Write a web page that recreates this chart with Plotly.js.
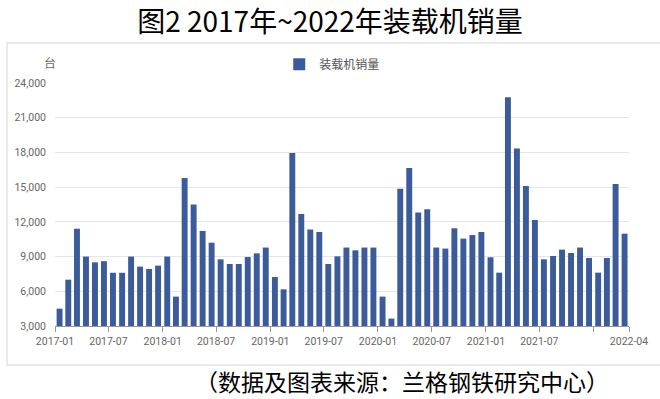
<!DOCTYPE html>
<html>
<head>
<meta charset="utf-8">
<script src="https://cdn.plot.ly/plotly-3.0.1.min.js"></script>
<style>
html,body{margin:0;padding:0;background:#fff;}
#chart{width:660px;height:399px;}
</style>
</head>
<body>
<div id="chart"></div>
<script>
// Months (categories)
const months = [
  "2017-01","2017-02","2017-03","2017-04","2017-05","2017-06","2017-07","2017-08","2017-09","2017-10","2017-11","2017-12",
  "2018-01","2018-02","2018-03","2018-04","2018-05","2018-06","2018-07","2018-08","2018-09","2018-10","2018-11","2018-12",
  "2019-01","2019-02","2019-03","2019-04","2019-05","2019-06","2019-07","2019-08","2019-09","2019-10","2019-11","2019-12",
  "2020-01","2020-02","2020-03","2020-04","2020-05","2020-06","2020-07","2020-08","2020-09","2020-10","2020-11","2020-12",
  "2021-01","2021-02","2021-03","2021-04","2021-05","2021-06","2021-07","2021-08","2021-09","2021-10","2021-11","2021-12",
  "2022-01","2022-02","2022-03","2022-04"
];
// Loader sales (units)
const sales = [
  4500, 7000, 11400, 9000, 8500, 8600, 7600, 7600, 9000, 8130, 7930, 8220,
  9000, 5540, 15800, 13500, 11200, 10200, 8760, 8360, 8360, 8960, 9280, 9780,
  7230, 6170, 17950, 12680, 11350, 11120, 8360, 9020, 9780, 9540, 9780, 9780,
  5540, 3640, 14870, 16650, 12800, 13100, 9780, 9690, 11450, 10550, 10860, 11120,
  8940, 7610, 22770, 18350, 15100, 12150, 8760, 9050, 9600, 9310, 9780, 8880,
  7610, 8880, 15270, 10980
];
const seriesName = "装载机销量";
const tickVals = ["2017-01-01","2017-07-01","2018-01-01","2018-07-01","2019-01-01","2019-07-01",
  "2020-01-01","2020-07-01","2021-01-01","2021-07-01","2022-01-01","2022-05-01"];
const tickLabels = ["2017-01","2017-07","2018-01","2018-07","2019-01","2019-07",
  "2020-01","2020-07","2021-01","2021-07","","2022-04"];
const yTicks = [3000, 6000, 9000, 12000, 15000, 18000, 21000, 24000];

const axisFont = {family: "Roboto, 'Noto Sans', sans-serif", size: 10.5, color: "#666"};
const cjk = "'Noto Sans CJK SC', 'Noto Sans', sans-serif";

const trace = {
  type: "bar",
  name: seriesName,
  x: months,
  y: sales,
  xperiod: "M1",
  xperiodalignment: "middle",
  marker: {color: "#3b5b9b", line: {width: 0}},
  showlegend: true
};

const layout = {
  width: 660, height: 399,
  margin: {l: 55, r: 31, t: 83, b: 73, pad: 0},
  paper_bgcolor: "#fff", plot_bgcolor: "#fff",
  bargap: 0.32,
  title: {
    text: "图2 2017年~2022年装载机销量",
    font: {family: cjk, size: 28, color: "#000"},
    x: 0.5, xanchor: "center", xref: "container",
    y: 0.945, yanchor: "middle", yref: "container"
  },
  xaxis: {
    type: "date",
    range: ["2017-01-01", "2022-05-01"],
    tickmode: "array", tickvals: tickVals, ticktext: tickLabels,
    ticks: "outside", ticklen: 5, tickcolor: "#999", tickwidth: 1,
    showline: true, linecolor: "#999", linewidth: 1,
    showgrid: false, zeroline: false,
    tickfont: axisFont
  },
  yaxis: {
    range: [3000, 24000],
    tickmode: "array", tickvals: yTicks,
    tickformat: ",d",
    showgrid: true, gridcolor: "#e6e6e6", gridwidth: 1,
    zeroline: false, showline: false, ticks: "",
    ticklabelstandoff: 8,
    tickfont: axisFont
  },
  legend: {
    orientation: "h",
    x: 0.483, xanchor: "center",
    y: 1.077, yanchor: "middle",
    font: {family: cjk, size: 12, color: "#555"},
    bgcolor: "rgba(0,0,0,0)"
  },
  shapes: [{
    type: "rect", xref: "paper", yref: "paper",
    x0: -0.0836, x1: 1.06, y0: -0.161, y1: 1.165,
    line: {color: "#d4d4d4", width: 1}, fillcolor: "rgba(0,0,0,0)", layer: "below"
  }],
  annotations: [
    {text: "台", xref: "paper", yref: "paper", x: -0.009, y: 1.085,
     xanchor: "center", yanchor: "middle", showarrow: false,
     font: {family: cjk, size: 12, color: "#666"}},
    {text: "（数据及图表来源：兰格钢铁研究中心）", xref: "paper", yref: "paper",
     x: 0.6045, y: -0.2276, xanchor: "center", yanchor: "middle", showarrow: false,
     font: {family: cjk, size: 23, color: "#000"}}
  ]
};

Plotly.newPlot("chart", [trace], layout, {displayModeBar: false, staticPlot: true});
</script>
</body>
</html>
